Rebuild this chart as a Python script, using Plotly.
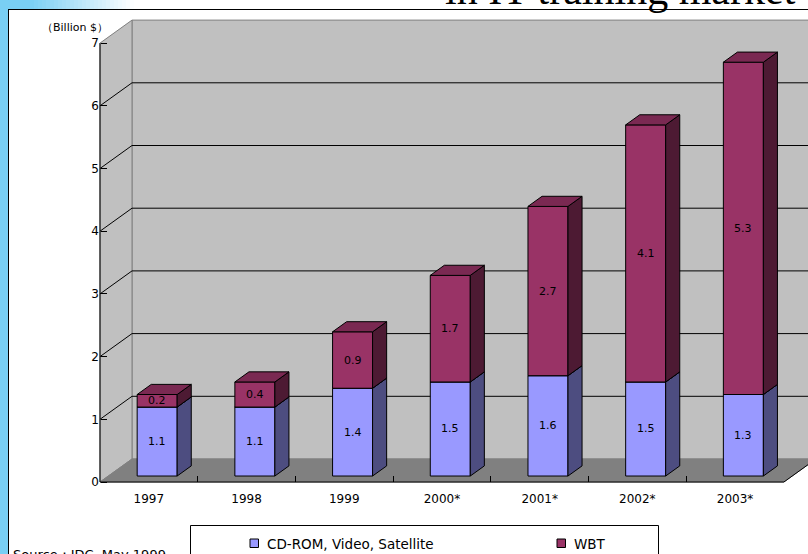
import plotly.graph_objects as go

# ---------------- data ----------------
categories = ["1997", "1998", "1999", "2000*", "2001*", "2002*", "2003*"]
cd_rom_video_satellite = [1.1, 1.1, 1.4, 1.5, 1.6, 1.5, 1.3]
wbt = [0.2, 0.4, 0.9, 1.7, 2.7, 4.1, 5.3]
series_names = ["CD-ROM, Video, Satellite", "WBT"]
y_tick_values = [0, 1, 2, 3, 4, 5, 6, 7]
title_text = "in IT training market"
unit_text = "（Billion $）"
source_text = "Source：IDC, May 1999"

# ---------------- styling / geometry ----------------
W, H = 808, 554
X0PX, CATPX = 100, 97.7      # pixel of left edge of category axis, px per category
Y0PX, VPX = 482, 62.7        # pixel of value 0, px per value unit
DX, DY = 32 / CATPX, 23 / VPX  # full-depth oblique offset in data units
BW = 40 / CATPX              # bar width in category units
Z0, Z1 = 0.26, 0.70          # bar depth (front, back) as fraction of floor depth
FONT = "DejaVu Sans"
face_colors = [
    {"front": "#9999FF", "side": "#4D4D80", "top": "#7A7ACC"},
    {"front": "#993366", "side": "#4D1A33", "top": "#7A2952"},
]
BLUE = "#79CFF4"

n = len(categories)
xmin, xmax = -0.5, n - 0.5
vmax = max(y_tick_values)
series = [cd_rom_video_satellite, wbt]


def P(x, v, z):
    return (x + z * DX, v + z * DY)


def add_poly(xs, ys, pts):
    for p in pts + [pts[0]]:
        xs.append(p[0])
        ys.append(p[1])
    xs.append(None)
    ys.append(None)


def add_line(xs, ys, pts):
    for p in pts:
        xs.append(p[0])
        ys.append(p[1])
    xs.append(None)
    ys.append(None)


fig = go.Figure()

# walls and floor
def wall(pts, fill, line):
    xs, ys = [], []
    add_poly(xs, ys, pts)
    fig.add_trace(go.Scatter(x=xs, y=ys, mode="lines", fill="toself", fillcolor=fill,
                             line=dict(color=line, width=1), showlegend=False, hoverinfo="skip"))

wall([P(xmin, 0, 1), P(xmax, 0, 1), P(xmax, vmax, 1), P(xmin, vmax, 1)], "#C0C0C0", "#808080")
wall([P(xmin, 0, 0), P(xmin, vmax, 0), P(xmin, vmax, 1), P(xmin, 0, 1)], "#C0C0C0", "#808080")
wall([P(xmin, 0, 0), P(xmax, 0, 0), P(xmax, 0, 1), P(xmin, 0, 1)], "#808080", "#808080")

# gridlines
gx, gy = [], []
for v in y_tick_values[1:-1]:
    add_line(gx, gy, [P(xmin, v, 0), P(xmin, v, 1), P(xmax, v, 1)])
fig.add_trace(go.Scatter(x=gx, y=gy, mode="lines", line=dict(color="black", width=1),
                         showlegend=False, hoverinfo="skip"))

# axis edges
ax_x, ax_y = [], []
add_line(ax_x, ax_y, [P(xmin, vmax, 0), P(xmin, 0, 0), P(xmax, 0, 0), P(xmax, 0, 1)])
fig.add_trace(go.Scatter(x=ax_x, y=ax_y, mode="lines", line=dict(color="black", width=1),
                         showlegend=False, hoverinfo="skip"))

# bars
bases = [0.0] * n
annotations = []
for s_idx, vals in enumerate(series):
    faces = {"front": ([], []), "side": ([], []), "top": ([], [])}
    for i, val in enumerate(vals):
        v0 = bases[i]
        v1 = v0 + val
        xl, xr = i - BW / 2, i + BW / 2
        add_poly(*faces["front"], [P(xl, v0, Z0), P(xr, v0, Z0), P(xr, v1, Z0), P(xl, v1, Z0)])
        add_poly(*faces["side"], [P(xr, v0, Z0), P(xr, v0, Z1), P(xr, v1, Z1), P(xr, v1, Z0)])
        add_poly(*faces["top"], [P(xl, v1, Z0), P(xr, v1, Z0), P(xr, v1, Z1), P(xl, v1, Z1)])
        cx, cy = P(i, (v0 + v1) / 2, Z0)
        annotations.append(dict(x=cx, y=cy, xref="x", yref="y", text=f"{val:.1f}", showarrow=False,
                                font=dict(family=FONT, size=11, color="black")))
        bases[i] = v1
    for face in ["front", "side", "top"]:
        xs, ys = faces[face]
        fig.add_trace(go.Scatter(x=xs, y=ys, mode="lines", fill="toself",
                                 fillcolor=face_colors[s_idx][face],
                                 line=dict(color="black", width=1), name=series_names[s_idx],
                                 showlegend=False, hoverinfo="skip"))

# ---------------- decorations (paper coords) ----------------
def px(x):
    return x / W


def py(y):
    return (H - y) / H


shapes = []
# left blue stripe
shapes.append(dict(type="rect", xref="paper", yref="paper", x0=px(0), x1=px(8), y0=py(H + 5), y1=py(-5),
                   fillcolor=BLUE, line=dict(width=0), layer="above"))
# top gradient band
shapes.append(dict(type="rect", xref="paper", yref="paper", x0=px(0), x1=px(30), y0=py(9), y1=py(-5),
                   fillcolor=BLUE, line=dict(width=0), layer="above"))
steps = 26
b = (0x79, 0xCF, 0xF4)
for k in range(steps):
    t = (k + 0.5) / steps
    c = tuple(round(b[j] + (255 - b[j]) * t) for j in range(3))
    shapes.append(dict(type="rect", xref="paper", yref="paper",
                       x0=px(30 + k * 4), x1=px(30 + (k + 1) * 4), y0=py(9), y1=py(-5),
                       fillcolor="rgb(%d,%d,%d)" % c, line=dict(width=0), layer="above"))
# frame lines
shapes.append(dict(type="line", xref="paper", yref="paper", x0=px(8.5), x1=px(8.5), y0=py(9), y1=py(H + 5),
                   line=dict(color="black", width=1), layer="above"))
shapes.append(dict(type="line", xref="paper", yref="paper", x0=px(8), x1=px(W + 5), y0=py(9.5), y1=py(9.5),
                   line=dict(color="black", width=1), layer="above"))
# legend box
shapes.append(dict(type="rect", xref="paper", yref="paper", x0=px(190.5), x1=px(658.5), y0=py(H + 20),
                   y1=py(525.5), fillcolor="white", line=dict(color="black", width=1), layer="above"))
legend_pos = [(250, 265), (557, 572)]
for s_idx, name in enumerate(series_names):
    sx, tx = legend_pos[s_idx]
    shapes.append(dict(type="rect", xref="paper", yref="paper", x0=px(sx), x1=px(sx + 8.5),
                       y0=py(547.5), y1=py(539), fillcolor=face_colors[s_idx]["front"],
                       line=dict(color="black", width=1), layer="above"))
    annotations.append(dict(x=px(tx), y=py(543.5), xref="paper", yref="paper", text=name,
                            xanchor="left", yanchor="middle", showarrow=False,
                            font=dict(family=FONT, size=13.5, color="black")))

annotations.append(dict(x=px(443), y=py(15), xref="paper", yref="paper", text=title_text,
                        xanchor="left", yanchor="bottom", showarrow=False,
                        font=dict(family="Liberation Serif", size=42, color="black")))
annotations.append(dict(x=px(75), y=py(27), xref="paper", yref="paper", text=unit_text,
                        xanchor="center", yanchor="middle", showarrow=False,
                        font=dict(family=FONT, size=11, color="black")))
annotations.append(dict(x=px(11), y=py(545), xref="paper", yref="paper", text=source_text,
                        xanchor="left", yanchor="top", showarrow=False,
                        font=dict(family=FONT, size=13, color="black")))

x_range = [xmin - X0PX / CATPX, xmin + (W - X0PX) / CATPX]
y_range = [-(H - Y0PX) / VPX, Y0PX / VPX]

fig.update_layout(
    width=W, height=H,
    margin=dict(l=0, r=0, t=0, b=0),
    paper_bgcolor="white", plot_bgcolor="rgba(0,0,0,0)",
    showlegend=False, hovermode=False,
    shapes=shapes, annotations=annotations,
    xaxis=dict(range=x_range, domain=[0, 1], anchor="free", position=(H - Y0PX) / H,
               showgrid=False, zeroline=False, showline=False,
               tickvals=list(range(n)), ticktext=categories, ticks="",
               ticklabelstandoff=8,
               tickfont=dict(family=FONT, size=12, color="black"),
               minor=dict(tickvals=[i + 0.5 for i in range(n - 1)], ticks="inside", ticklen=6,
                          tickcolor="black", tickwidth=1, showgrid=False),
               fixedrange=True),
    yaxis=dict(range=y_range, domain=[0, 1], anchor="free", position=X0PX / W,
               showgrid=False, zeroline=False, showline=False,
               tickvals=y_tick_values, ticks="inside", ticklen=6, tickcolor="black", tickwidth=1,
               ticklabelstandoff=1,
               tickfont=dict(family=FONT, size=12, color="black"),
               fixedrange=True),
)

fig.write_html("out.html")
